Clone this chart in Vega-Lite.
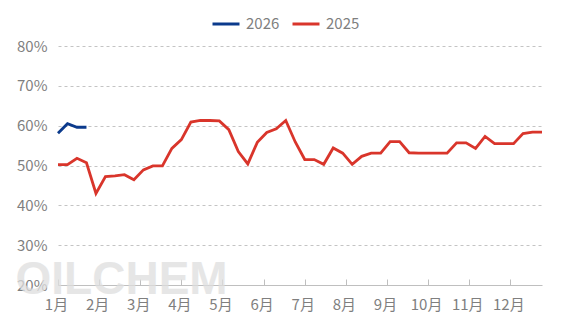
{
  "$schema": "https://vega.github.io/schema/vega-lite/v6.json",
  "width": 484,
  "height": 239,
  "autosize": {"type": "none"},
  "padding": {"left": 58, "top": 46, "right": 25, "bottom": 40},
  "background": "white",
  "config": {
    "view": {"stroke": null},
    "font": "Noto Sans CJK SC",
    "axisX": {
      "title": null,
      "grid": false,
      "domainColor": "#bfbfbf",
      "tickColor": "#bfbfbf",
      "tickSize": -6,
      "labelPadding": 18,
      "labelOffset": -2,
      "labelFontSize": 15,
      "labelColor": "#7f7f7f",
      "labelFlush": false,
      "labelOverlap": false
    },
    "axisY": {
      "title": null,
      "domain": false,
      "ticks": false,
      "labelPadding": 11,
      "labelFontSize": 15,
      "labelColor": "#7f7f7f",
      "gridColor": "#c4c4c4",
      "gridDash": [3, 3],
      "gridWidth": 1
    }
  },
  "datasets": {
    "series": [
      {"year": "2026", "week": 0, "value": 58.1},
      {"year": "2026", "week": 1, "value": 60.5},
      {"year": "2026", "week": 2, "value": 59.6},
      {"year": "2026", "week": 3, "value": 59.6},
      {"year": "2025", "week": 0, "value": 50.2},
      {"year": "2025", "week": 1, "value": 50.2},
      {"year": "2025", "week": 2, "value": 51.8},
      {"year": "2025", "week": 3, "value": 50.7},
      {"year": "2025", "week": 4, "value": 43.0},
      {"year": "2025", "week": 5, "value": 47.2},
      {"year": "2025", "week": 6, "value": 47.4},
      {"year": "2025", "week": 7, "value": 47.7},
      {"year": "2025", "week": 8, "value": 46.4},
      {"year": "2025", "week": 9, "value": 48.9},
      {"year": "2025", "week": 10, "value": 49.9},
      {"year": "2025", "week": 11, "value": 49.9},
      {"year": "2025", "week": 12, "value": 54.3},
      {"year": "2025", "week": 13, "value": 56.5},
      {"year": "2025", "week": 14, "value": 60.9},
      {"year": "2025", "week": 15, "value": 61.3},
      {"year": "2025", "week": 16, "value": 61.3},
      {"year": "2025", "week": 17, "value": 61.2},
      {"year": "2025", "week": 18, "value": 59.0},
      {"year": "2025", "week": 19, "value": 53.5},
      {"year": "2025", "week": 20, "value": 50.4},
      {"year": "2025", "week": 21, "value": 55.8},
      {"year": "2025", "week": 22, "value": 58.3},
      {"year": "2025", "week": 23, "value": 59.2},
      {"year": "2025", "week": 24, "value": 61.3},
      {"year": "2025", "week": 25, "value": 55.9},
      {"year": "2025", "week": 26, "value": 51.5},
      {"year": "2025", "week": 27, "value": 51.5},
      {"year": "2025", "week": 28, "value": 50.3},
      {"year": "2025", "week": 29, "value": 54.4},
      {"year": "2025", "week": 30, "value": 53.1},
      {"year": "2025", "week": 31, "value": 50.3},
      {"year": "2025", "week": 32, "value": 52.3},
      {"year": "2025", "week": 33, "value": 53.1},
      {"year": "2025", "week": 34, "value": 53.1},
      {"year": "2025", "week": 35, "value": 56.0},
      {"year": "2025", "week": 36, "value": 56.0},
      {"year": "2025", "week": 37, "value": 53.2},
      {"year": "2025", "week": 38, "value": 53.1},
      {"year": "2025", "week": 39, "value": 53.1},
      {"year": "2025", "week": 40, "value": 53.1},
      {"year": "2025", "week": 41, "value": 53.1},
      {"year": "2025", "week": 42, "value": 55.7},
      {"year": "2025", "week": 43, "value": 55.7},
      {"year": "2025", "week": 44, "value": 54.3},
      {"year": "2025", "week": 45, "value": 57.3},
      {"year": "2025", "week": 46, "value": 55.5},
      {"year": "2025", "week": 47, "value": 55.5},
      {"year": "2025", "week": 48, "value": 55.5},
      {"year": "2025", "week": 49, "value": 58.0},
      {"year": "2025", "week": 50, "value": 58.4},
      {"year": "2025", "week": 51, "value": 58.4}
    ],
    "mark": [{"label": "OILCHEM", "week": 6.7, "value": 21.3}]
  },
  "layer": [
    {
      "data": {"name": "mark"},
      "mark": {"type": "text", "font": "Liberation Sans", "fontWeight": "bold", "fontSize": 46, "color": "#dedede", "opacity": 0.75, "align": "center", "baseline": "middle"},
      "encoding": {
        "x": {
          "field": "week", "type": "quantitative",
          "scale": {"domain": [0, 51], "nice": false, "zero": false},
          "axis": {
            "values": [0, 4.333, 8.667, 13, 17.333, 21.667, 26, 30.333, 34.667, 39, 43.333, 47.667],
            "labelExpr": "round(datum.value * 12 / 52) + 1 + '月'"
          }
        },
        "y": {
          "field": "value", "type": "quantitative",
          "scale": {"domain": [20, 80], "nice": false, "zero": false},
          "axis": {"values": [20, 30, 40, 50, 60, 70, 80], "labelExpr": "datum.value + '%'"}
        },
        "text": {"field": "label"}
      }
    },
    {
      "data": {"name": "series"},
      "mark": {"type": "line", "strokeWidth": 2.8, "strokeJoin": "miter", "strokeCap": "butt"},
      "encoding": {
        "x": {
          "field": "week", "type": "quantitative",
          "scale": {"domain": [0, 51], "nice": false, "zero": false},
          "axis": {
            "values": [0, 4.333, 8.667, 13, 17.333, 21.667, 26, 30.333, 34.667, 39, 43.333, 47.667],
            "labelExpr": "round(datum.value * 12 / 52) + 1 + '月'"
          }
        },
        "y": {
          "field": "value", "type": "quantitative",
          "scale": {"domain": [20, 80], "nice": false, "zero": false},
          "axis": {"values": [20, 30, 40, 50, 60, 70, 80], "labelExpr": "datum.value + '%'"}
        },
        "color": {
          "field": "year", "type": "nominal",
          "scale": {"domain": ["2026", "2025"], "range": ["#0b3a8c", "#d9352b"]},
          "legend": {
            "title": null,
            "orient": "none",
            "direction": "horizontal",
            "legendX": 153,
            "legendY": -37,
            "symbolType": "stroke",
            "symbolSize": 729,
            "symbolStrokeWidth": 3,
            "labelFontSize": 15,
            "labelColor": "#7f7f7f",
            "labelOffset": 5,
            "columnPadding": 6
          }
        }
      }
    }
  ]
}
